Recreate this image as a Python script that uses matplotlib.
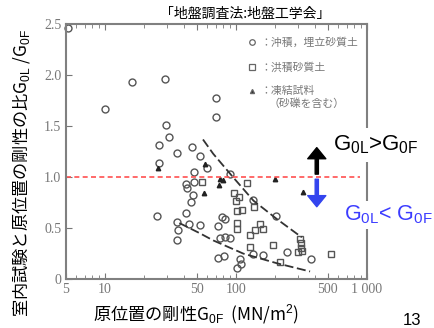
import matplotlib
matplotlib.use("Agg")
import matplotlib.pyplot as plt

plt.rcParams['font.family'] = ['Noto Sans CJK JP', 'DejaVu Sans']
plt.rcParams['mathtext.fontset'] = 'custom'
plt.rcParams['mathtext.rm'] = 'Liberation Sans'

# in-situ stiffness G0F (MN/m2) vs ratio G0L/G0F
circle_x = [5.2, 10, 16.1, 28.8, 70.6, 70.2, 29.4, 30.9, 25.8, 35.2, 46.4, 53.0,
            25.9, 59.7, 47.7, 41.9, 42.4, 47.7, 47.1, 45.3, 41.9, 25.0, 35.6, 35.8,
            35.2, 44.0, 53.0, 90.0, 77.6, 82.3, 73.3, 75.5, 82.3, 90.0, 73.3, 81.5,
            102, 107, 109, 136, 202, 244, 162, 136, 372]
circle_y = [2.46, 1.67, 1.93, 1.96, 1.78, 1.59, 1.51, 1.39, 1.32, 1.24, 1.30, 1.21,
            1.14, 1.09, 1.05, 0.935, 0.896, 0.95, 0.83, 0.76, 0.65, 0.62, 0.56, 0.48,
            0.38, 0.54, 0.53, 1.03, 0.61, 0.59, 0.52, 0.40, 0.41, 0.40, 0.21, 0.23,
            0.11, 0.195, 0.146, 0.78, 0.62, 0.27, 0.24, 0.25, 0.195]

square_x = [55.0, 97, 106, 100, 121, 137, 102, 112, 101, 101, 153, 162, 140, 129,
            129, 193, 215, 309, 314, 314, 297, 322, 533]
square_y = [0.95, 0.84, 0.81, 0.77, 0.94, 0.71, 0.67, 0.675, 0.55, 0.49, 0.545, 0.49,
            0.48, 0.43, 0.32, 0.33, 0.17, 0.39, 0.35, 0.31, 0.27, 0.28, 0.25]

tri_x = [25.6, 58.0, 57.3, 75.5, 80.0, 74.1, 199, 324]
tri_y = [1.09, 1.13, 0.845, 0.98, 0.97, 0.92, 0.98, 0.85]

upper_x = [56, 67, 95, 136, 205, 318]
upper_y = [1.37, 1.23, 1.0, 0.77, 0.59, 0.41]
lower_x = [37, 53, 67, 114, 205, 368]
lower_y = [0.55, 0.45, 0.38, 0.25, 0.156, 0.075]

xticks = [5, 10, 50, 100, 500, 1000]
xticklabels = ['5', '10', '50', '100', '500', '1 000']
yticks = [0, 0.5, 1.0, 1.5, 2.0, 2.5]
yticklabels = ['0', '0.5', '1.0', '1.5', '2.0', '2.5']

legend_labels = ['：沖積，埋立砂質土', '：洪積砂質土', '：凍結試料']

fig = plt.figure(figsize=(4.34, 3.28), dpi=100)
ax = fig.add_axes([0.151, 0.149, 0.6945, 0.777])

ax.plot(circle_x, circle_y, 'o', ms=5, mfc='none', mec='#555555', mew=1.0, clip_on=False)
ax.plot(square_x, square_y, 's', ms=4.6, mfc='none', mec='#555555', mew=1.0)
ax.plot(tri_x, tri_y, '^', ms=3.2, color='#222222')
ax.plot(upper_x, upper_y, color='#333333', lw=1.3, dashes=(5, 2))
ax.plot(lower_x, lower_y, color='#333333', lw=1.3, dashes=(5, 2))

ax.axhline(1.0, xmin=0, xmax=0.977, color='#ff5050', lw=1.2, dashes=(3, 2))

ax.set_xscale('log')
ax.set_xlim(5, 1000)
ax.set_ylim(0, 2.5)
ax.set_xticks(xticks)
ax.set_xticklabels(xticklabels, family='Liberation Serif', fontsize=10, color='#777777')
ax.set_yticks(yticks)
ax.set_yticklabels(yticklabels, family='Liberation Serif', fontsize=10, color='#777777')
ax.tick_params(which='both', direction='in', top=True, color='#777777', pad=3)
ax.tick_params(which='major', length=4)
ax.tick_params(which='minor', length=3)
ax.tick_params(axis='x', which='minor', labelbottom=False)
for s in ax.spines.values():
    s.set_color('#808080')
    s.set_linewidth(1.5)

# scanned legend
legend_y = [0.929, 0.831, 0.737]
for m, yy, lab in zip(['o', 's', '^'], legend_y, legend_labels):
    ax.plot([0.618], [yy], m, transform=ax.transAxes, ms=4 if m != '^' else 3,
            mfc='none' if m != '^' else '#333333', mec='#666666', mew=0.9, clip_on=False)
    ax.text(0.645, yy, lab, transform=ax.transAxes, fontsize=7.8, color='#777777',
            va='center', ha='left')
ax.text(0.675, 0.69, '（砂礫を含む）', transform=ax.transAxes, fontsize=7.8,
        color='#777777', va='center', ha='left')

# arrows
ax.annotate('', xy=(414, 1.29), xytext=(414, 1.03),
            arrowprops=dict(width=2.3, headwidth=13, headlength=8, color='black', shrink=0))
ax.annotate('', xy=(414, 0.71), xytext=(414, 0.98),
            arrowprops=dict(width=2.3, headwidth=13, headlength=8, color='#3344ee', shrink=0))

fig.text(0.767, 0.558, r'G$_{\mathrm{0L}}$>G$_{\mathrm{0F}}$', family='Liberation Sans',
         fontsize=16, color='black', va='center', ha='left',
         bbox=dict(facecolor='white', edgecolor='none', pad=4))
fig.text(0.793, 0.345, r'G$_{\mathrm{0L}}$< G$_{\mathrm{0F}}$', family='Liberation Sans',
         fontsize=15.5, color='#3c3cff', va='center', ha='left',
         bbox=dict(facecolor='white', edgecolor='none', pad=2))

fig.text(0.565, 0.957, '「地盤調査法:地盤工学会」', fontsize=10, ha='center', va='center')
fig.text(0.048, 0.473, '室内試験と原位置の剛性の比G$_{\\mathrm{0L}}$ /G$_{\\mathrm{0F}}$',
         fontsize=12.4, rotation=90, ha='center', va='center')
fig.text(0.214, 0.043, '原位置の剛性G$_{\\mathrm{0F}}$  (MN/m$^{\\mathrm{2}}$)',
         fontsize=12.4, ha='left', va='center')
fig.text(0.949, 0.024, '13', family='Liberation Sans', fontsize=12, ha='center', va='center')

fig.savefig('out.png', dpi=100)
